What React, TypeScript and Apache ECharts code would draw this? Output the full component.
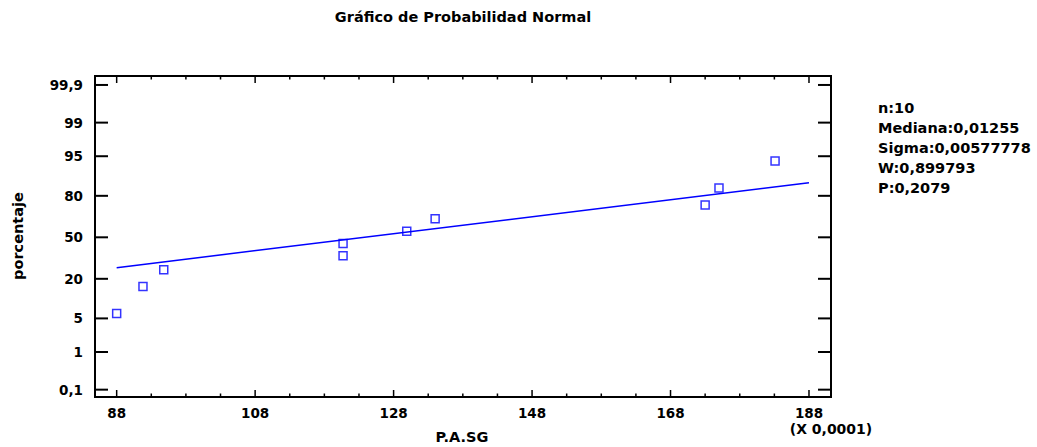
import React, { useEffect, useRef } from "react";
import * as echarts from "echarts";

// ---- data (x in units of 0.0001, y in percent) ----
const X_VALUES = [88.0, 91.8, 94.8, 120.7, 120.7, 129.9, 134.0, 173.0, 175.0, 183.1];
const PCT_VALUES = [6.1, 15.9, 25.6, 35.4, 45.1, 54.9, 64.6, 74.4, 84.1, 93.9];
const FIT_X = [88, 188];
const FIT_PCT = [26.9, 86.6];
const X_MAJOR_TICKS = [88, 108, 128, 148, 168, 188];
const X_MINOR_TICKS = [93, 98, 103, 113, 118, 123, 133, 138, 143, 153, 158, 163, 173, 178, 183];
const Y_TICK_PCT = [0.1, 1, 5, 20, 50, 80, 95, 99, 99.9];
const Y_TICK_LABELS = ["0,1", "1", "5", "20", "50", "80", "95", "99", "99,9"];
const STATS_LINES = ["n:10", "Mediana:0,01255", "Sigma:0,00577778", "W:0,899793", "P:0,2079"];
const TITLE = "Gráfico de Probabilidad Normal";
const X_NAME = "P.A.SG";
const X_UNIT = "(X 0,0001)";
const Y_NAME = "porcentaje";

const X_MIN = 84.87;
const X_MAX = 191.18;
const Y_MIN = -3.239;
const Y_MAX = 3.272;

const FONT = '"DejaVu Sans", sans-serif';
const BLUE = "#0000ff";

// inverse standard normal CDF (Acklam)
function probit(p: number): number {
  const a = [-39.69683028665376, 220.9460984245205, -275.9285104469687, 138.357751867269, -30.66479806614716, 2.506628277459239];
  const b = [-54.47609879822406, 161.5858368580409, -155.6989798598866, 66.80131188771972, -13.28068155288572];
  const c = [-0.007784894002430293, -0.3223964580411365, -2.400758277161838, -2.549732539343734, 4.374664141464968, 2.938163982698783];
  const d = [0.007784695709041462, 0.3224671290700398, 2.445134137142996, 3.754408661907416];
  const pl = 0.02425;
  if (p < pl) {
    const q = Math.sqrt(-2 * Math.log(p));
    return (((((c[0] * q + c[1]) * q + c[2]) * q + c[3]) * q + c[4]) * q + c[5]) / ((((d[0] * q + d[1]) * q + d[2]) * q + d[3]) * q + 1);
  }
  if (p > 1 - pl) {
    const q = Math.sqrt(-2 * Math.log(1 - p));
    return -(((((c[0] * q + c[1]) * q + c[2]) * q + c[3]) * q + c[4]) * q + c[5]) / ((((d[0] * q + d[1]) * q + d[2]) * q + d[3]) * q + 1);
  }
  const q = p - 0.5;
  const r = q * q;
  return ((((((a[0] * r + a[1]) * r + a[2]) * r + a[3]) * r + a[4]) * r + a[5]) * q) / (((((b[0] * r + b[1]) * r + b[2]) * r + b[3]) * r + b[4]) * r + 1);
}

export default function App() {
  const ref = useRef<HTMLDivElement>(null);
  useEffect(() => {
    document.body.style.margin = "0";
    if (!ref.current) return;
    const chart = echarts.init(ref.current, null, { renderer: "svg" });

    const xTickData = [
      ...X_MAJOR_TICKS.map((v) => [v, 1]),
      ...X_MINOR_TICKS.map((v) => [v, 0]),
    ];
    const yTickData = Y_TICK_PCT.map((p, i) => [X_MIN, probit(p / 100), i]);

    const option: any = {
      animation: false,
      backgroundColor: "#ffffff",
      grid: {
        left: 95,
        top: 76,
        width: 736,
        height: 321,
        show: true,
        borderColor: "#000000",
        borderWidth: 2,
        backgroundColor: "transparent",
      },
      xAxis: {
        type: "value",
        min: X_MIN,
        max: X_MAX,
        axisLine: { show: false },
        axisTick: { show: false },
        axisLabel: { show: false },
        splitLine: { show: false },
      },
      yAxis: {
        type: "value",
        min: Y_MIN,
        max: Y_MAX,
        axisLine: { show: false },
        axisTick: { show: false },
        axisLabel: { show: false },
        splitLine: { show: false },
      },
      series: [
        {
          type: "custom",
          name: "xticks",
          coordinateSystem: "cartesian2d",
          silent: true,
          clip: false,
          data: xTickData,
          renderItem: (params: any, api: any) => {
            const v = api.value(0);
            const major = api.value(1) === 1;
            const b = api.coord([v, Y_MIN]);
            const t = api.coord([v, Y_MAX]);
            const len = major ? 7 : 3.5;
            const st = { stroke: "#000", lineWidth: 1.5 };
            const children: any[] = [
              { type: "line", shape: { x1: b[0], y1: b[1], x2: b[0], y2: b[1] - len }, style: st },
              { type: "line", shape: { x1: t[0], y1: t[1], x2: t[0], y2: t[1] + len }, style: st },
            ];
            if (major) {
              children.push({
                type: "text",
                style: {
                  text: String(v),
                  x: b[0],
                  y: b[1] + 16,
                  align: "center",
                  verticalAlign: "middle",
                  fill: "#000",
                  fontFamily: FONT,
                  fontWeight: "bold",
                  fontSize: 13.5,
                },
              });
            }
            return { type: "group", children };
          },
        },
        {
          type: "custom",
          name: "yticks",
          coordinateSystem: "cartesian2d",
          silent: true,
          clip: false,
          data: yTickData,
          renderItem: (params: any, api: any) => {
            const z = api.value(1);
            const i = api.value(2);
            const l = api.coord([X_MIN, z]);
            const r = api.coord([X_MAX, z]);
            const st = { stroke: "#000", lineWidth: 2 };
            return {
              type: "group",
              children: [
                { type: "line", shape: { x1: l[0], y1: l[1], x2: l[0] + 13, y2: l[1] }, style: st },
                { type: "line", shape: { x1: r[0], y1: r[1], x2: r[0] - 13, y2: r[1] }, style: st },
                {
                  type: "text",
                  style: {
                    text: Y_TICK_LABELS[i],
                    x: l[0] - 12,
                    y: l[1],
                    align: "right",
                    verticalAlign: "middle",
                    fill: "#000",
                    fontFamily: FONT,
                    fontWeight: "bold",
                    fontSize: 13.5,
                  },
                },
              ],
            };
          },
        },
        {
          type: "line",
          name: "fit",
          data: FIT_X.map((x, i) => [x, probit(FIT_PCT[i] / 100)]),
          showSymbol: false,
          symbol: "none",
          lineStyle: { color: BLUE, width: 1.5 },
          silent: true,
        },
        {
          type: "scatter",
          name: "data",
          data: X_VALUES.map((x, i) => [x, probit(PCT_VALUES[i] / 100)]),
          symbol: "rect",
          symbolSize: 8,
          itemStyle: { color: "#ffffff", borderColor: BLUE, borderWidth: 1.5 },
          silent: true,
        },
      ],
      graphic: [
        {
          type: "text",
          x: 463,
          y: 17,
          style: {
            text: TITLE,
            align: "center",
            verticalAlign: "middle",
            fill: "#000",
            fontFamily: FONT,
            fontWeight: "bold",
            fontSize: 14.5,
          },
        },
        {
          type: "text",
          x: 462,
          y: 437,
          style: {
            text: X_NAME,
            align: "center",
            verticalAlign: "middle",
            fill: "#000",
            fontFamily: FONT,
            fontWeight: "bold",
            fontSize: 14.5,
          },
        },
        {
          type: "text",
          x: 831,
          y: 428.5,
          style: {
            text: X_UNIT,
            align: "center",
            verticalAlign: "middle",
            fill: "#000",
            fontFamily: FONT,
            fontWeight: "bold",
            fontSize: 14,
          },
        },
        {
          type: "text",
          x: 18,
          y: 236,
          rotation: Math.PI / 2,
          style: {
            text: Y_NAME,
            align: "center",
            verticalAlign: "middle",
            fill: "#000",
            fontFamily: FONT,
            fontWeight: "bold",
            fontSize: 14.5,
          },
        },
        ...STATS_LINES.map((s, i) => ({
          type: "text",
          x: 878,
          y: 108 + i * 20,
          style: {
            text: s,
            align: "left",
            verticalAlign: "middle",
            fill: "#000",
            fontFamily: FONT,
            fontWeight: "bold",
            fontSize: 14.5,
          },
        })),
      ],
    };
    chart.setOption(option);
    return () => {
      chart.dispose();
    };
  }, []);
  return <div ref={ref} style={{ width: 1037, height: 447 }} />;
}
